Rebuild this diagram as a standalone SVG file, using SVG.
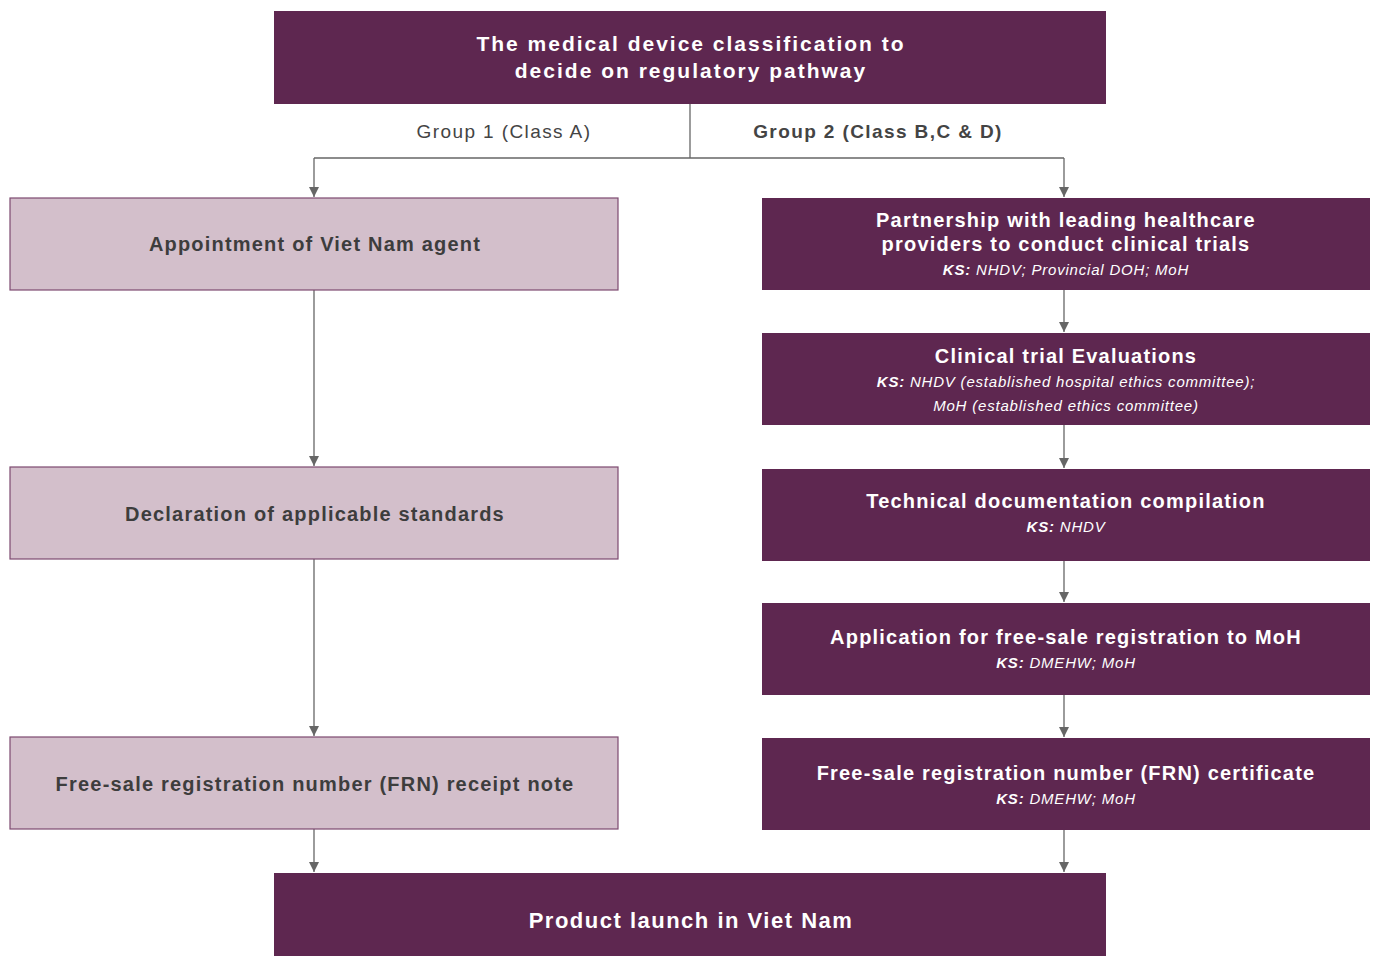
<svg xmlns="http://www.w3.org/2000/svg" width="1376" height="956" viewBox="0 0 1376 956">
<defs>
<marker id="arr" viewBox="0 0 10 10" refX="10" refY="5" markerWidth="10" markerHeight="14" markerUnits="userSpaceOnUse" orient="auto">
<path d="M0,0 L10,5 L0,10 z" fill="#666"/>
</marker>
<style>
.dark{fill:#5e2750}
.light{fill:#d3bfcb;stroke:#7d4a70;stroke-width:1.2}
.t{font-family:"Liberation Sans",Arial,sans-serif;text-anchor:middle}
.wt{fill:#fff;font-weight:bold;font-size:20px;letter-spacing:1.2px}
.title{font-size:21px;letter-spacing:2px}
.launch{font-size:22px;letter-spacing:1.5px}
.bt{fill:#3d3d3d;font-weight:bold;font-size:20px;letter-spacing:1.2px}
.ks{fill:#fff;font-style:italic;font-size:15px;letter-spacing:0.8px}
.ks tspan.b{font-weight:bold}
.lbl{fill:#444;font-size:19px;letter-spacing:1.4px}
.ln{stroke:#666;stroke-width:1.3;fill:none}
</style>
</defs>
<rect width="1376" height="956" fill="#fff"/>
<g id="connectors">
<path class="ln" d="M690,104 V158"/>
<path class="ln" d="M314,158 H1064"/>
<path class="ln" d="M314,158 V197" marker-end="url(#arr)"/>
<path class="ln" d="M1064,158 V197" marker-end="url(#arr)"/>
<path class="ln" d="M314,290 V466" marker-end="url(#arr)"/>
<path class="ln" d="M314,559 V736" marker-end="url(#arr)"/>
<path class="ln" d="M314,829 V872" marker-end="url(#arr)"/>
<path class="ln" d="M1064,290 V332" marker-end="url(#arr)"/>
<path class="ln" d="M1064,425 V468" marker-end="url(#arr)"/>
<path class="ln" d="M1064,561 V602" marker-end="url(#arr)"/>
<path class="ln" d="M1064,695 V737" marker-end="url(#arr)"/>
<path class="ln" d="M1064,830 V872" marker-end="url(#arr)"/>
<text class="t lbl" x="504" y="138">Group 1 (Class A)</text>
<text class="t lbl" x="878" y="138" font-weight="bold">Group 2 (Class B,C &amp; D)</text>
</g>
<g id="top">
<rect class="dark" x="274" y="11" width="832" height="93"/>
<text class="t wt title" x="691" y="51">The medical device classification to</text>
<text class="t wt title" x="691" y="78">decide on regulatory pathway</text>
</g>
<g id="l1">
<rect class="light" x="10" y="198" width="608" height="92"/>
<text class="t bt" x="315" y="251">Appointment of Viet Nam agent</text>
</g>
<g id="l2">
<rect class="light" x="10" y="467" width="608" height="92"/>
<text class="t bt" x="315" y="521">Declaration of applicable standards</text>
</g>
<g id="l3">
<rect class="light" x="10" y="737" width="608" height="92"/>
<text class="t bt" x="315" y="791">Free-sale registration number (FRN) receipt note</text>
</g>
<g id="r1">
<rect class="dark" x="762" y="198" width="608" height="92"/>
<text class="t wt" x="1066" y="227">Partnership with leading healthcare</text>
<text class="t wt" x="1066" y="251">providers to conduct clinical trials</text>
<text class="t ks" x="1066" y="275"><tspan class="b">KS:</tspan> NHDV; Provincial DOH; MoH</text>
</g>
<g id="r2">
<rect class="dark" x="762" y="333" width="608" height="92"/>
<text class="t wt" x="1066" y="363">Clinical trial Evaluations</text>
<text class="t ks" x="1066" y="387"><tspan class="b">KS:</tspan> NHDV (established hospital ethics committee);</text>
<text class="t ks" x="1066" y="411">MoH (established ethics committee)</text>
</g>
<g id="r3">
<rect class="dark" x="762" y="469" width="608" height="92"/>
<text class="t wt" x="1066" y="508">Technical documentation compilation</text>
<text class="t ks" x="1066" y="532"><tspan class="b">KS:</tspan> NHDV</text>
</g>
<g id="r4">
<rect class="dark" x="762" y="603" width="608" height="92"/>
<text class="t wt" x="1066" y="644">Application for free-sale registration to MoH</text>
<text class="t ks" x="1066" y="668"><tspan class="b">KS:</tspan> DMEHW; MoH</text>
</g>
<g id="r5">
<rect class="dark" x="762" y="738" width="608" height="92"/>
<text class="t wt" x="1066" y="780">Free-sale registration number (FRN) certificate</text>
<text class="t ks" x="1066" y="804"><tspan class="b">KS:</tspan> DMEHW; MoH</text>
</g>
<g id="bottom">
<rect class="dark" x="274" y="873" width="832" height="83"/>
<text class="t wt launch" x="691" y="928">Product launch in Viet Nam</text>
</g>
</svg>
